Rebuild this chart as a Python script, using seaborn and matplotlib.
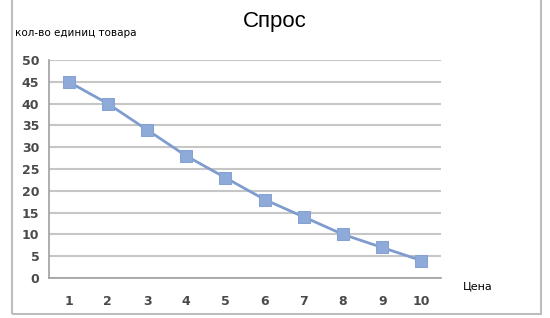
import matplotlib
matplotlib.use("Agg")
import matplotlib.pyplot as plt
import seaborn as sns
import pandas as pd
from matplotlib.patches import Rectangle

prices = [1, 2, 3, 4, 5, 6, 7, 8, 9, 10]
quantity = [45, 40, 34, 28, 23, 18, 14, 10, 7, 4]
y_ticks = [0, 5, 10, 15, 20, 25, 30, 35, 40, 45, 50]
title = "Спрос"
y_label = "кол-во единиц товара"
x_label = "Цена"

sns.set_style("white")
plt.rcParams['font.family'] = ['DejaVu Sans']

df = pd.DataFrame({"price": prices, "qty": quantity})

fig = plt.figure(figsize=(5.5, 3.18), dpi=100)
ax = fig.add_axes([49/550, 1-278/318, 392/550, 218/318])

sns.lineplot(data=df, x="price", y="qty", ax=ax, color="#7f9ccf", linewidth=2,
             marker="s", markersize=8, markeredgecolor="#86a2d4", markerfacecolor="#8eaad8")

ax.set_xlim(0.5, 10.5)
ax.set_ylim(0, 50)
ax.set_yticks(y_ticks)
ax.set_yticklabels([str(v) for v in y_ticks])
ax.set_xticks(prices)
ax.set_xticklabels([str(v) for v in prices])
ax.set_xticks([p - 0.5 for p in prices] + [10.5], minor=True)
ax.tick_params(axis='x', which='major', length=0, pad=12, labelsize=9, labelcolor="#4a4a4a")
ax.tick_params(axis='x', which='minor', length=4, width=1, color="#a0a0a0", direction='out')
ax.tick_params(axis='y', which='major', length=4, width=1, color="#a0a0a0", direction='out',
               labelsize=9, labelcolor="#4a4a4a", pad=3)
for lab in ax.get_xticklabels() + ax.get_yticklabels():
    lab.set_fontweight('bold')

ax.grid(axis='y', color="#c6c6c6", linewidth=1.5)
ax.set_axisbelow(True)
for s in ['top', 'right']:
    ax.spines[s].set_visible(False)
ax.spines['left'].set_color("#a0a0a0")
ax.spines['bottom'].set_color("#a0a0a0")
ax.spines['left'].set_linewidth(1.2)
ax.spines['bottom'].set_linewidth(1.2)
ax.set_xlabel("")
ax.set_ylabel("")

fig.text(275/550, 1-22/318, title, ha='center', va='center', fontsize=16,
         family='Liberation Sans', color="#000000")
fig.text(15/550, 1-33/318, y_label, ha='left', va='center', fontsize=7.5, color="#000000")
fig.text(463/550, 1-286/318, x_label, ha='left', va='center', fontsize=8, color="#000000")

fig.patches.append(Rectangle((12/550, 1-314/318), 529/550, 320/318, transform=fig.transFigure,
                             fill=False, edgecolor="#bdbdbd", linewidth=1.5))

fig.savefig("out.png", dpi=100)
